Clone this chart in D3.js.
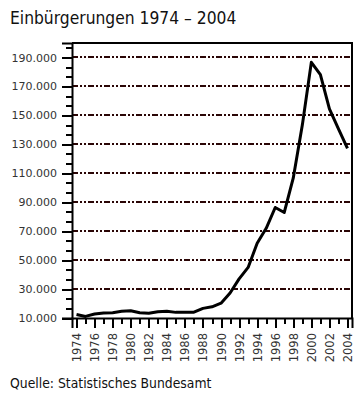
<!DOCTYPE html>
<html>
<head>
<meta charset="utf-8">
<script src="https://cdn.jsdelivr.net/npm/d3@7"></script>
<style>
  body { margin: 0; background: #fff; }
  svg { display: block; }
  .tick text { font-family: "DejaVu Sans", sans-serif; font-size: 11px; fill: #333; }
</style>
</head>
<body>
<div id="chart"></div>
<script>
// Einbuergerungen 1974 - 2004

var years = d3.range(1974, 2005);
var counts = [
  12400, 11100, 12800, 13500, 13700, 14600, 14969, 13643, 13266, 14334,
  14695, 13894, 14030, 14029, 16660, 17742, 20237, 27295, 37042, 44950,
  61709, 71981, 86356, 82913, 106790, 143267, 186688, 178098, 154547, 140731,
  127153
];
var majorTicks = [10000, 30000, 50000, 70000, 90000, 110000, 130000, 150000, 170000, 190000];
var minorStep = 20000 / 3;
var yearLabels = ["1974", "1976", "1978", "1980", "1982", "1984", "1986", "1988",
  "1990", "1992", "1994", "1996", "1998", "2000", "2002", "2004"];

var W = 361, H = 398;
var plotL = 72, plotR = 352, plotT = 43, plotB = 318;

var svg = d3.select("#chart").append("svg")
  .attr("width", W)
  .attr("height", H);

var x = d3.scaleLinear().domain([1973.5, 2004.5]).range([plotL, plotR]);
var y = d3.scaleLinear().domain([10000, 200000]).range([plotB, plotT]);

var fmt = function (v) { return d3.format(",")(v).replace(/,/g, "."); };

// title + source
svg.append("text")
  .attr("x", 10).attr("y", 24)
  .style("font-family", "'DejaVu Sans Condensed', 'DejaVu Sans', sans-serif")
  .style("font-size", "17.3px")
  .attr("fill", "#111")
  .text("Einbürgerungen 1974 – 2004");

svg.append("text")
  .attr("x", 10).attr("y", 388)
  .style("font-family", "'DejaVu Sans Condensed', 'DejaVu Sans', sans-serif")
  .style("font-size", "13.8px")
  .attr("fill", "#111")
  .text("Quelle: Statistisches Bundesamt");

// grid lines
svg.append("g")
  .selectAll("line")
  .data(majorTicks.filter(function (v) { return v > 10000; }))
  .join("line")
  .attr("x1", plotL).attr("x2", plotR)
  .attr("y1", function (d) { return y(d); })
  .attr("y2", function (d) { return y(d); })
  .attr("stroke", "#2a0505")
  .attr("stroke-width", 2)
  .attr("stroke-dasharray", "6,2,2,2,2,2")
  .attr("shape-rendering", "crispEdges");

// frame
svg.append("path")
  .attr("d", "M" + plotL + "," + plotT + "H" + plotR + "V" + plotB)
  .attr("fill", "none")
  .attr("stroke", "#000")
  .attr("stroke-width", 2)
  .attr("shape-rendering", "crispEdges");

// y axis, minor ticks
var minorTicks = d3.range(0, 29).map(function (k) { return 10000 + k * minorStep; });
svg.append("g")
  .attr("transform", "translate(" + plotL + ",0)")
  .call(d3.axisLeft(y).tickValues(minorTicks).tickSize(6).tickFormat(""))
  .call(function (g) { g.select(".domain").remove(); })
  .selectAll("line").attr("stroke-width", 2).attr("shape-rendering", "crispEdges");

// y axis, major ticks with labels
var yAxis = svg.append("g")
  .attr("transform", "translate(" + plotL + ",0)")
  .call(d3.axisLeft(y).tickValues(majorTicks).tickSize(10).tickPadding(5).tickFormat(fmt));
yAxis.select(".domain").attr("stroke-width", 2);
yAxis.selectAll("line").attr("stroke-width", 2).attr("shape-rendering", "crispEdges");

// x axis
var xAxis = svg.append("g")
  .attr("transform", "translate(0," + plotB + ")")
  .call(d3.axisBottom(x).tickValues(years).tickSize(10).tickFormat(function (d) {
    return yearLabels.indexOf(String(d)) >= 0 ? String(d) : "";
  }));
xAxis.select(".domain").attr("stroke-width", 2);
xAxis.selectAll(".tick line")
  .attr("y2", function (d) { return d % 2 === 0 ? 10 : 6; })
  .attr("stroke-width", 2)
  .attr("shape-rendering", "crispEdges");
xAxis.selectAll(".tick text")
  .style("font-size", "11.5px")
  .attr("transform", "rotate(-90)")
  .attr("x", -15)
  .attr("y", 0)
  .attr("dy", "0.35em")
  .attr("text-anchor", "end");

// data line
svg.append("path")
  .datum(years.map(function (yr, i) { return [yr, counts[i]]; }))
  .attr("fill", "none")
  .attr("stroke", "#000")
  .attr("stroke-width", 3)
  .attr("stroke-linejoin", "round")
  .attr("d", d3.line()
    .x(function (d) { return x(d[0]); })
    .y(function (d) { return y(d[1]); }));
</script>
</body>
</html>
